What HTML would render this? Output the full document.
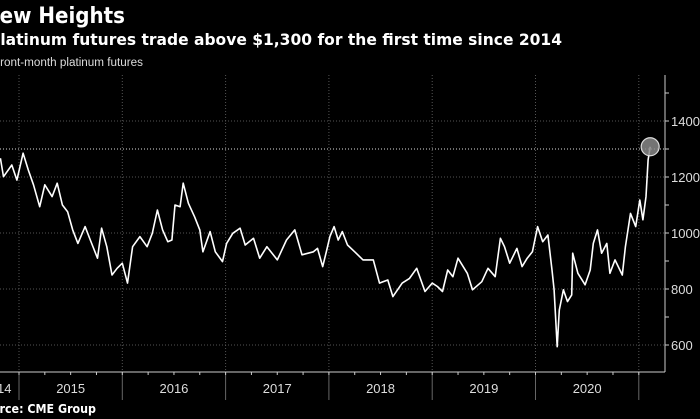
<!DOCTYPE html>
<html><head><meta charset="utf-8"><style>
body{margin:0;background:#000;width:700px;height:419px;overflow:hidden;font-family:"Liberation Sans",sans-serif;color:#fff}
svg{display:block}
</style></head><body>
<svg width="700" height="419" id="chart">
<text x="-17" y="23" font-size="22" font-weight="bold" fill="#fff" font-family="DejaVu Sans, sans-serif" textLength="142" lengthAdjust="spacingAndGlyphs">New Heights</text>
<text x="-11" y="45" font-size="16" font-weight="bold" fill="#fff" font-family="DejaVu Sans, sans-serif" textLength="573" lengthAdjust="spacingAndGlyphs">Platinum futures trade above $1,300 for the first time since 2014</text>
<text x="-7" y="66" font-size="11.5" fill="#ddd" textLength="150" lengthAdjust="spacingAndGlyphs">Front-month platinum futures</text>
<text x="-24" y="413" font-size="12" font-weight="bold" fill="#fff" font-family="DejaVu Sans, sans-serif" textLength="120" lengthAdjust="spacingAndGlyphs">Source: CME Group</text>
<g id="grid"></g><g id="axes"></g><g id="series"></g>
</svg>
<script>
const dates=[2014.82,2014.85,2014.93,2014.98,2015.04,2015.09,2015.14,2015.20,2015.25,2015.32,2015.37,2015.42,2015.47,2015.52,2015.57,2015.64,2015.69,2015.76,2015.80,2015.85,2015.90,2015.95,2016.00,2016.05,2016.10,2016.17,2016.24,2016.29,2016.34,2016.39,2016.44,2016.48,2016.51,2016.56,2016.59,2016.64,2016.70,2016.75,2016.78,2016.85,2016.90,2016.97,2017.01,2017.07,2017.14,2017.19,2017.27,2017.33,2017.40,2017.50,2017.59,2017.67,2017.74,2017.85,2017.89,2017.94,2017.98,2018.01,2018.05,2018.09,2018.13,2018.18,2018.25,2018.33,2018.43,2018.49,2018.57,2018.62,2018.71,2018.78,2018.85,2018.93,2019.00,2019.05,2019.10,2019.15,2019.20,2019.25,2019.34,2019.39,2019.48,2019.54,2019.61,2019.66,2019.70,2019.75,2019.82,2019.87,2019.92,2019.97,2020.02,2020.07,2020.12,2020.16,2020.18,2020.21,2020.23,2020.27,2020.31,2020.35,2020.36,2020.41,2020.48,2020.53,2020.56,2020.60,2020.64,2020.69,2020.72,2020.77,2020.84,2020.87,2020.92,2020.97,2021.01,2021.04,2021.07,2021.09,2021.11];
const prices=[1267,1201,1243,1189,1285,1225,1172,1094,1172,1130,1178,1100,1076,1011,963,1023,975,910,1017,951,850,874,892,821,951,987,951,999,1082,1011,969,975,1100,1094,1178,1106,1058,1011,933,1005,933,898,963,999,1017,957,981,910,951,904,975,1011,922,933,945,880,940,987,1023,975,1005,957,933,904,904,821,832,773,821,838,874,791,821,809,791,868,844,910,856,797,826,874,844,981,951,892,945,880,910,933,1023,969,993,868,797,594,725,797,755,779,928,856,815,868,963,1011,928,963,856,904,850,951,1070,1023,1118,1047,1130,1261,1308];
const yTicks=[600,800,1000,1200,1400];
const years=[2015,2016,2017,2018,2019,2020];
const refLevel=1300;
const X=t=>19+(t-2015)*103.3;
const Y=v=>121+(1400-v)*56/200;
const NS="http://www.w3.org/2000/svg";
function mk(tag,attrs,parent,txt){const e=document.createElementNS(NS,tag);for(const k in attrs)e.setAttribute(k,attrs[k]);if(txt!=null)e.textContent=txt;parent.appendChild(e);return e;}
const grid=document.getElementById('grid'),axes=document.getElementById('axes'),series=document.getElementById('series');
const axisX=665,axisY=372;
yTicks.forEach(v=>{const l=mk('line',{x1:0,x2:axisX,y1:Y(v),y2:Y(v),stroke:'#555','stroke-width':1,'stroke-dasharray':'1,2'},grid);


const t=mk('text',{x:axisX+6,y:Y(v)+5,'font-size':13,fill:'#ddd'},axes,String(v));

});
for(let v=500;v<=1500;v+=100){if(Y(v)<80||Y(v)>axisY)continue;const tk=mk('line',{x1:axisX,x2:axisX+4,y1:Y(v),y2:Y(v),stroke:'#ccc'},axes);

}
const yrs=years.concat([2021]);
yrs.forEach(y=>{const l=mk('line',{x1:X(y),x2:X(y),y1:75,y2:axisY,stroke:'#555','stroke-dasharray':'1,2'},grid);


const tk=mk('line',{x1:X(y),x2:X(y),y1:axisY,y2:400,stroke:'#666'},axes);

});
for(let q=2014.75;q<2021.25;q+=0.25){const tk=mk('line',{x1:X(q),x2:X(q),y1:axisY,y2:axisY+3,stroke:'#ccc'},axes);

}
years.forEach(y=>{const t=mk('text',{x:X(y+0.5),y:393,'font-size':13,fill:'#ddd','text-anchor':'middle'},axes,String(y));

});
const t14=mk('text',{x:-3,y:393,'font-size':13,fill:'#ddd','text-anchor':'middle'},axes,'2014');


const xa=mk('line',{x1:0,x2:axisX,y1:axisY,y2:axisY,stroke:'#ccc'},axes);


const ya=mk('line',{x1:axisX,x2:axisX,y1:75,y2:axisY,stroke:'#ccc'},axes);


const ref=mk('line',{x1:0,x2:axisX,y1:Y(refLevel),y2:Y(refLevel),stroke:'#ddd','stroke-dasharray':'1,2'},grid);


const d=dates.map((t,i)=>(i?'L':'M')+X(t).toFixed(1)+','+Y(prices[i]).toFixed(1)).join('');
const p=mk('path',{d:d,fill:'none',stroke:'#fff','stroke-width':1.6,'stroke-linejoin':'round'},series);


const n=dates.length-1;
const c=mk('circle',{cx:X(dates[n]),cy:Y(prices[n]),r:9,fill:'#888',stroke:'#ddd','stroke-width':1.2,'fill-opacity':0.85},series);


</script>
</body></html>
